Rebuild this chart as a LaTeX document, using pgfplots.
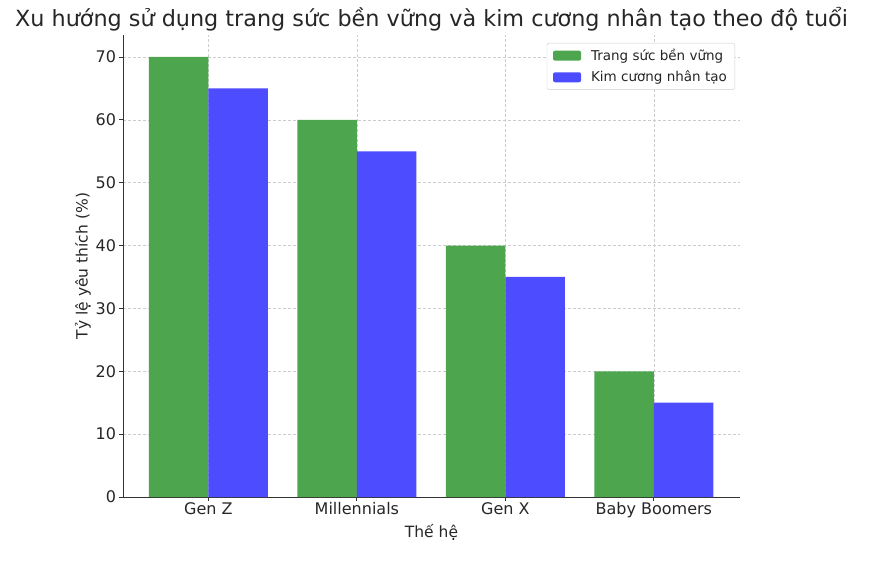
\documentclass[border=0pt]{standalone}
\usepackage{pgfplots}
\pgfplotsset{compat=1.18}
\usepackage{fontspec}
\setmainfont{DejaVu Sans}

\definecolor{txt}{HTML}{262626}
\definecolor{spine}{HTML}{333333}
\definecolor{gridc}{HTML}{CCCCCC}
\definecolor{bgreen}{HTML}{4DA64D}
\definecolor{bblue}{HTML}{4D4DFF}

\begin{document}
\begin{tikzpicture}
\begin{axis}[
    name=ax,
    scale only axis,
    width=617pt,
    height=462pt,
    xmin=-0.575, xmax=3.58,
    ymin=0, ymax=73.5,
    ybar,
    bar width=0.4,
    axis x line*=bottom,
    axis y line*=left,
    axis line style={spine, line width=0.9pt},
    tick align=outside,
    major tick length=3.5pt,
    tick style={spine, line width=0.8pt},
    xtick={0,1,2,3},
    xticklabels={Gen Z, Millennials, Gen X, Baby Boomers},
    ytick={0,10,20,30,40,50,60,70},
    /pgf/number format/assume math mode=true,
    ticklabel style={font=\fontsize{16}{19}\selectfont, text=txt},
    xticklabel style={text height=11.5pt, text depth=3pt, inner ysep=2pt},
    grid=major,
    major grid style={gridc, line width=0.6pt, dash pattern=on 3pt off 2pt},
    xlabel={Thế hệ},
    ylabel={Tỷ lệ yêu thích (\%)},
    label style={font=\fontsize{15.5}{18}\selectfont, text=txt},
    xlabel style={at={(axis description cs:0.5,0)}, anchor=center, yshift=-35pt},
    ylabel style={at={(axis description cs:-0.065,0.5)}, anchor=center},
    legend style={at={(1,1)}, anchor=north east, xshift=-5pt, yshift=-8pt,
        draw=gridc, rounded corners=2pt, fill=white,
        font=\fontsize{13.5}{16}\selectfont, text=txt,
        inner xsep=6pt, inner ysep=4pt, row sep=5pt,
        /tikz/every odd column/.append style={column sep=8pt}},
    legend cell align=left,
    legend image code/.code={\fill[#1] (0pt,-5pt) rectangle (28pt,5pt);},
]
\addplot[fill=bgreen, draw=none, bar shift=-0.2] coordinates {
    (0, 70)
    (1, 60)
    (2, 40)
    (3, 20)
};
\addlegendentry{Trang sức bền vững}
\addplot[fill=bblue, draw=none, bar shift=0.2] coordinates {
    (0, 65)
    (1, 55)
    (2, 35)
    (3, 15)
};
\addlegendentry{Kim cương nhân tạo}
\end{axis}
\node[font=\fontsize{22.3}{26}\selectfont, text=txt, anchor=center]
    at ([yshift=16pt]ax.north) {Xu hướng sử dụng trang sức bền vững và kim cương nhân tạo theo độ tuổi};
\path (ax.south west) ++(-123pt,-65pt) rectangle ++(883pt,562pt);
\end{tikzpicture}
\end{document}
